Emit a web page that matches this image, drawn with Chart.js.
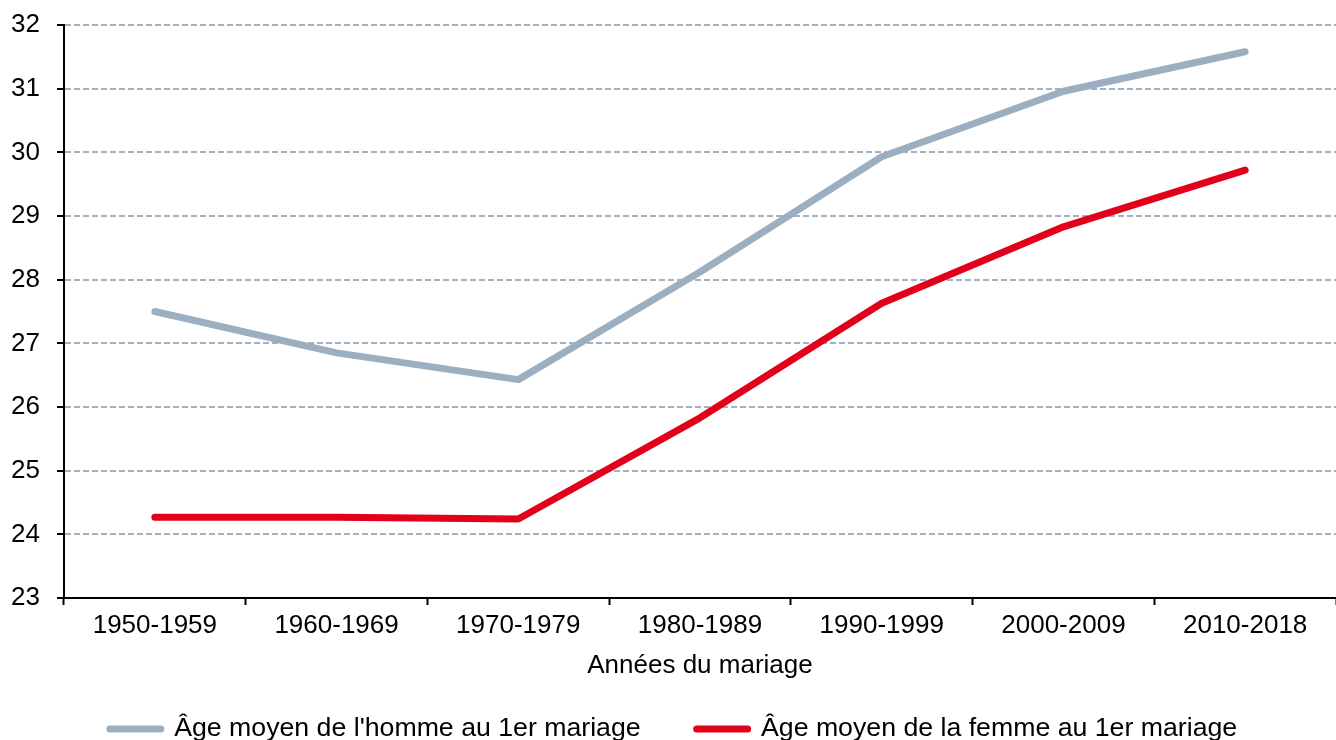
<!DOCTYPE html>
<html lang="fr">
<head>
<meta charset="utf-8">
<title>Âge moyen au 1er mariage</title>
<script src="https://cdn.jsdelivr.net/npm/chart.js@4.4.1/dist/chart.umd.min.js"></script>
<style>
    html, body { margin: 0; padding: 0; background: #fff; overflow: hidden; }
    #wrap { position: relative; width: 1336px; height: 740px; }
</style>
</head>
<body>
<div id="wrap"><canvas id="ageChart"></canvas></div>
<script>
// Age moyen au premier mariage, par decennie
const periods = ['1950-1959', '1960-1969', '1970-1979', '1980-1989', '1990-1999', '2000-2009', '2010-2018'];
const menAge = [27.5, 26.85, 26.43, 28.12, 29.93, 30.96, 31.58];
const womenAge = [24.27, 24.27, 24.24, 25.83, 27.63, 28.83, 29.72];
const yTicks = [23, 24, 25, 26, 27, 28, 29, 30, 31, 32];

const seriesLabels = ["Âge moyen de l'homme au 1er mariage", 'Âge moyen de la femme au 1er mariage'];
const axisTitle = 'Années du mariage';

const greyBlue = '#9cafc1';
const red = '#e2001a';
const gridColor = '#a2b2c1';
const fontFamily = '"Liberation Sans", Arial, Helvetica, sans-serif';

document.addEventListener('DOMContentLoaded', function () {
    const canvas = document.getElementById('ageChart');

    new Chart(canvas, {
        type: 'line',
        data: {
            labels: periods,
            datasets: [
                {
                    label: seriesLabels[0],
                    data: menAge,
                    borderColor: greyBlue,
                    backgroundColor: greyBlue,
                    borderWidth: 7,
                    borderCapStyle: 'round',
                    borderJoinStyle: 'round',
                    pointRadius: 0,
                    tension: 0,
                    fill: false
                },
                {
                    label: seriesLabels[1],
                    data: womenAge,
                    borderColor: red,
                    backgroundColor: red,
                    borderWidth: 7,
                    borderCapStyle: 'round',
                    borderJoinStyle: 'round',
                    pointRadius: 0,
                    tension: 0,
                    fill: false
                }
            ]
        },
        options: {
            responsive: true,
            maintainAspectRatio: false,
            animation: false,
            layout: {
                padding: { top: 25, left: 11, right: 0, bottom: 0 }
            },
            plugins: {
                tooltip: { enabled: false },
                legend: {
                    position: 'bottom',
                    maxHeight: 80.35,
                    labels: {
                        color: '#000',
                        font: { family: fontFamily, size: 26.7 },
                        padding: 56,
                        usePointStyle: true,
                        pointStyleWidth: 51,
                        generateLabels: (chart) => chart.data.datasets.map((ds, i) => ({
                            text: ds.label,
                            fillStyle: ds.borderColor,
                            strokeStyle: ds.borderColor,
                            lineWidth: 7,
                            lineCap: 'round',
                            pointStyle: 'line',
                            hidden: false,
                            datasetIndex: i
                        }))
                    }
                }
            },
            scales: {
                x: {
                    offset: true,
                    afterFit: (scale) => { scale.height = 61.65; },
                    grid: {
                        offset: true,
                        drawOnChartArea: false,
                        drawTicks: true,
                        tickLength: 7,
                        tickWidth: 2,
                        tickColor: '#000'
                    },
                    border: { display: true, color: '#000', width: 2 },
                    ticks: {
                        color: '#000',
                        padding: 5,
                        maxRotation: 0,
                        font: { family: fontFamily, size: 26 }
                    },
                    title: {
                        display: true,
                        text: axisTitle,
                        color: '#000',
                        font: { family: fontFamily, size: 26 },
                        padding: { top: 0, bottom: -21.95 }
                    }
                },
                y: {
                    min: yTicks[0],
                    max: yTicks[yTicks.length - 1],
                    afterFit: (scale) => { scale.width = 53; },
                    afterBuildTicks: (scale) => {
                        scale.ticks = yTicks.map((v) => ({ value: v }));
                    },
                    grid: {
                        color: (ctx) => (ctx.tick && ctx.tick.value === yTicks[0]) ? 'rgba(0,0,0,0)' : gridColor,
                        lineWidth: 2,
                        tickLength: 7,
                        tickWidth: 2,
                        tickColor: '#000',
                        tickBorderDash: []
                    },
                    border: { display: true, color: '#000', width: 2, dash: [6, 3] },
                    ticks: {
                        color: '#000',
                        padding: 9,
                        crossAlign: 'far',
                        font: { family: fontFamily, size: 26 }
                    }
                }
            }
        }
    });
});
</script>
</body>
</html>
